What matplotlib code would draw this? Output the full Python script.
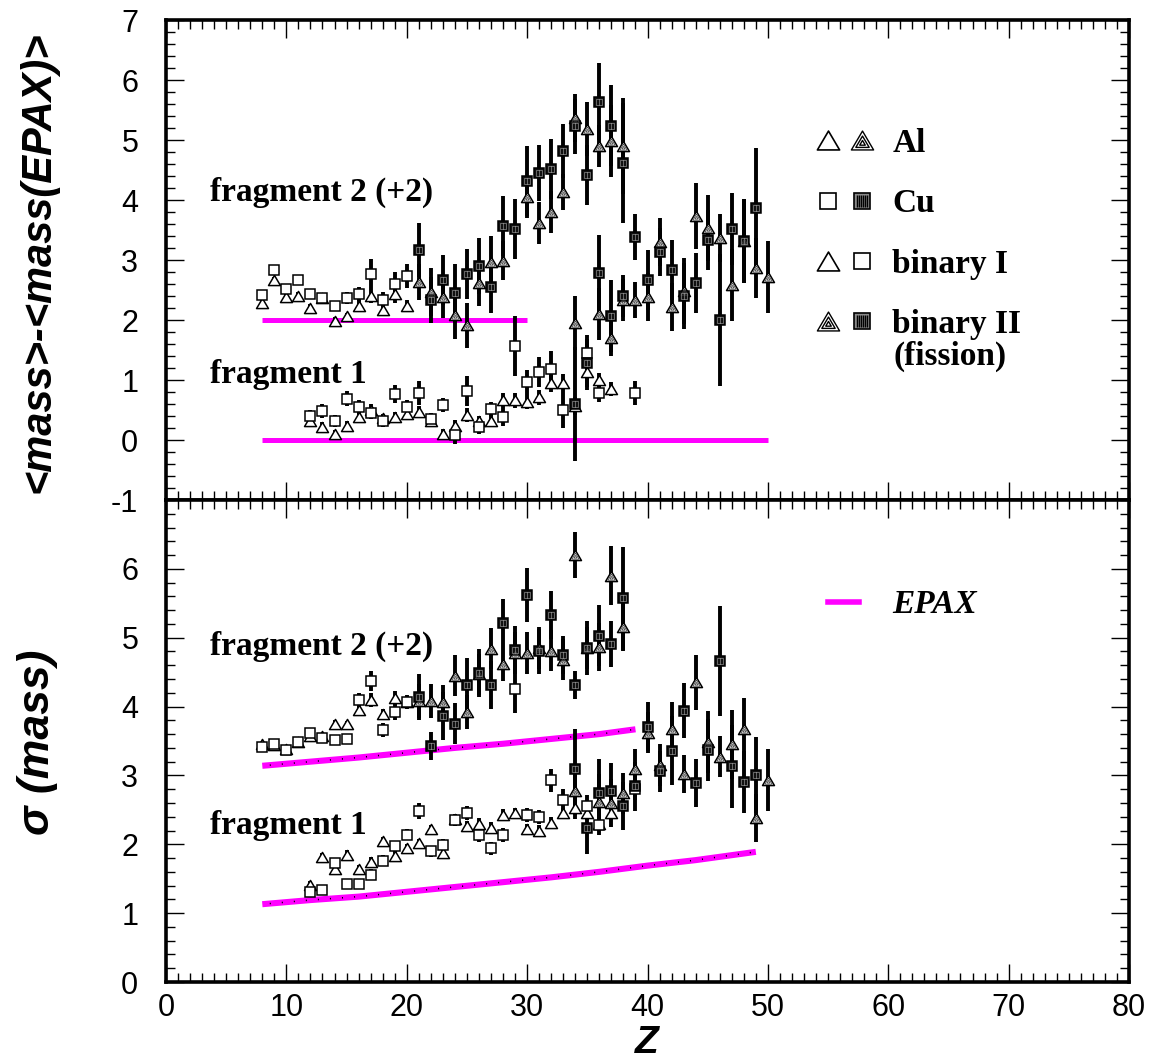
import numpy as np
import matplotlib
matplotlib.use('Agg')
import matplotlib.pyplot as plt
from matplotlib.path import Path
from matplotlib.lines import Line2D
from matplotlib.legend_handler import HandlerTuple
from matplotlib.ticker import MultipleLocator

# ---------------- data: top panel  <mass> - <mass(EPAX)> ----------------
# fragment 2 (+2 offset)
top_f2_binI_Al_z = [8, 9, 10, 11, 12, 13, 14, 15, 16, 17, 18, 19, 20]
top_f2_binI_Al_v = [2.28, 2.66, 2.38, 2.40, 2.20, 2.36, 1.99, 2.06, 2.24, 2.40, 2.17, 2.43, 2.23]
top_f2_binI_Al_e = [0.06, 0.06, 0.06, 0.06, 0.06, 0.06, 0.06, 0.06, 0.10, 0.12, 0.10, 0.15, 0.10]

top_f2_binI_Cu_z = [8, 9, 10, 11, 12, 13, 14, 15, 16, 17, 18, 19, 20]
top_f2_binI_Cu_v = [2.42, 2.83, 2.52, 2.67, 2.43, 2.37, 2.23, 2.36, 2.43, 2.77, 2.34, 2.60, 2.73]
top_f2_binI_Cu_e = [0.06, 0.06, 0.06, 0.06, 0.06, 0.06, 0.06, 0.10, 0.12, 0.25, 0.12, 0.20, 0.20]

top_f2_binII_Al_z = [21, 22, 23, 24, 25, 26, 27, 28, 30, 31, 32, 33, 34, 35, 36, 37, 38]
top_f2_binII_Al_v = [2.63, 2.47, 2.38, 2.09, 1.91, 2.62, 2.97, 2.99, 4.05, 3.62, 3.80, 4.13, 5.36, 5.19, 4.90, 4.99, 4.90]
top_f2_binII_Al_e = [0.30, 0.40, 0.35, 0.40, 0.37, 0.38, 0.43, 0.32, 0.35, 0.35, 0.35, 0.30, 0.40, 0.45, 0.35, 0.60, 0.80]

top_f2_binII_Cu_z = [21, 22, 23, 24, 25, 26, 27, 28, 29, 30, 31, 32, 33, 34, 35, 36, 37, 38]
top_f2_binII_Cu_v = [3.16, 2.33, 2.67, 2.45, 2.77, 2.90, 2.55, 3.56, 3.51, 4.32, 4.45, 4.51, 4.81, 5.23, 4.42, 5.64, 5.24, 4.62]
top_f2_binII_Cu_e = [0.45, 0.38, 0.42, 0.49, 0.42, 0.47, 0.43, 0.50, 0.50, 0.58, 0.46, 0.50, 0.45, 0.46, 0.50, 0.64, 0.67, 1.00]

# fragment 1
top_f1_binI_Al_z = [12, 13, 14, 15, 16, 17, 18, 19, 20, 21, 22, 23, 24, 25, 26, 27, 28, 29, 30, 31, 32, 33, 34, 35, 36, 37]
top_f1_binI_Al_v = [0.31, 0.22, 0.10, 0.24, 0.39, 0.50, 0.36, 0.39, 0.43, 0.47, 0.31, 0.10, 0.23, 0.42, 0.32, 0.32,
                    0.66, 0.66, 0.64, 0.71, 0.95, 0.95, 0.56, 1.14, 1.00, 0.85]
top_f1_binI_Al_e = [0.08, 0.08, 0.06, 0.08, 0.08, 0.10, 0.08, 0.08, 0.08, 0.10, 0.08, 0.08, 0.10, 0.12, 0.08, 0.10,
                    0.12, 0.12, 0.12, 0.12, 0.15, 0.15, 0.15, 0.30, 0.12, 0.12]

top_f1_binI_Cu_z = [12, 13, 14, 15, 16, 17, 18, 19, 20, 21, 22, 23, 24, 25, 26, 27, 28, 29, 30, 31, 32, 33, 35, 36, 39]
top_f1_binI_Cu_v = [0.40, 0.48, 0.31, 0.69, 0.55, 0.45, 0.31, 0.76, 0.55, 0.78, 0.35, 0.58, 0.09, 0.81, 0.22, 0.52,
                    0.39, 1.56, 0.96, 1.14, 1.19, 0.50, 1.45, 0.78, 0.79]
top_f1_binI_Cu_e = [0.10, 0.12, 0.10, 0.12, 0.12, 0.10, 0.10, 0.15, 0.12, 0.20, 0.10, 0.12, 0.15, 0.25, 0.12, 0.12,
                    0.15, 0.50, 0.20, 0.25, 0.30, 0.30, 0.30, 0.15, 0.20]

top_f1_binII_Al_z = [34, 36, 37, 38, 39, 40, 41, 42, 43, 44, 45, 46, 47, 48, 49, 50]
top_f1_binII_Al_v = [1.95, 2.10, 1.70, 2.33, 2.34, 2.39, 3.30, 2.21, 2.49, 3.74, 3.54, 3.37, 2.59, 3.31, 2.87, 2.71]
top_f1_binII_Al_e = [0.45, 0.43, 0.30, 0.35, 0.30, 0.40, 0.40, 0.40, 0.55, 0.55, 0.55, 0.40, 0.60, 0.70, 0.50, 0.60]

top_f1_binII_Cu_z = [34, 35, 36, 37, 38, 39, 40, 41, 42, 43, 44, 45, 46, 47, 48, 49]
top_f1_binII_Cu_v = [0.60, 1.28, 2.78, 2.06, 2.40, 3.38, 2.67, 3.13, 2.83, 2.40, 2.62, 3.34, 2.00, 3.52, 3.32, 3.87]
top_f1_binII_Cu_e = [0.95, 0.40, 0.64, 0.60, 0.35, 0.38, 0.50, 0.40, 0.50, 0.55, 0.50, 0.50, 1.10, 0.60, 0.70, 1.00]

# EPAX reference (top panel)
epax_top_f2_z = [8, 30]
epax_top_f2_v = [2.0, 2.0]
epax_top_f1_z = [8, 50]
epax_top_f1_v = [0.0, 0.0]

# ---------------- data: bottom panel  sigma(mass) ----------------
bot_f2_binI_Al_z = [8, 9, 10, 11, 12, 13, 14, 15, 16, 17, 18, 19, 20]
bot_f2_binI_Al_v = [3.45, 3.44, 3.38, 3.48, 3.57, 3.57, 3.75, 3.74, 3.95, 4.09, 3.89, 4.13, 4.06]
bot_f2_binI_Al_e = [0.04, 0.04, 0.04, 0.04, 0.05, 0.05, 0.05, 0.05, 0.06, 0.10, 0.08, 0.10, 0.08]

bot_f2_binI_Cu_z = [8, 9, 10, 11, 12, 13, 14, 15, 16, 17, 18, 19, 20, 29]
bot_f2_binI_Cu_v = [3.42, 3.45, 3.37, 3.48, 3.61, 3.55, 3.51, 3.53, 4.09, 4.37, 3.66, 3.92, 4.07, 4.26]
bot_f2_binI_Cu_e = [0.04, 0.04, 0.04, 0.04, 0.05, 0.05, 0.05, 0.06, 0.10, 0.15, 0.10, 0.12, 0.10, 0.35]

bot_f2_binII_Al_z = [21, 22, 23, 24, 25, 26, 27, 28, 29, 30, 31, 32, 33, 34, 35, 36, 37, 38]
bot_f2_binII_Al_v = [4.08, 4.08, 4.07, 4.45, 3.92, 4.47, 4.84, 4.62, 4.78, 4.78, 4.85, 4.81, 4.68, 6.20, 4.85, 4.87, 5.90, 5.15]
bot_f2_binII_Al_e = [0.25, 0.25, 0.25, 0.30, 0.25, 0.30, 0.30, 0.25, 0.30, 0.30, 0.30, 0.30, 0.30, 0.33, 0.30, 0.35, 0.43, 0.35]

bot_f2_binII_Cu_z = [21, 22, 23, 24, 25, 26, 27, 28, 29, 30, 31, 32, 33, 34, 35, 36, 37, 38]
bot_f2_binII_Cu_v = [4.14, 3.43, 3.86, 3.75, 4.31, 4.49, 4.31, 5.21, 4.82, 5.62, 4.80, 5.33, 4.75, 4.31, 4.85, 5.03, 4.91, 5.57]
bot_f2_binII_Cu_e = [0.33, 0.20, 0.35, 0.30, 0.40, 0.35, 0.35, 0.35, 0.35, 0.39, 0.33, 0.35, 0.28, 0.20, 0.39, 0.44, 0.34, 0.75]

bot_f1_binI_Al_z = [12, 13, 14, 15, 16, 17, 18, 19, 20, 21, 22, 23, 24, 25, 26, 27, 28, 29, 30, 31, 32, 33, 34, 35, 36, 37]
bot_f1_binI_Al_v = [1.41, 1.81, 1.64, 1.85, 1.64, 1.75, 2.05, 1.83, 1.95, 2.02, 2.22, 1.87, 2.36, 2.26, 2.30, 2.24,
                    2.43, 2.45, 2.22, 2.20, 2.31, 2.45, 2.52, 2.45, 2.30, 2.45]
bot_f1_binI_Al_e = [0.06, 0.06, 0.06, 0.06, 0.06, 0.06, 0.06, 0.06, 0.06, 0.06, 0.06, 0.06, 0.08, 0.08, 0.08, 0.08,
                    0.08, 0.08, 0.08, 0.08, 0.08, 0.08, 0.10, 0.10, 0.10, 0.10]

bot_f1_binI_Cu_z = [12, 13, 14, 15, 16, 17, 18, 19, 20, 21, 22, 23, 24, 25, 26, 27, 28, 30, 31, 32, 33, 35, 36, 39]
bot_f1_binI_Cu_v = [1.31, 1.33, 1.73, 1.43, 1.43, 1.56, 1.76, 1.97, 2.14, 2.48, 1.90, 1.99, 2.35, 2.45, 2.14, 1.94,
                    2.14, 2.43, 2.40, 2.93, 2.65, 2.56, 2.28, 2.80]
bot_f1_binI_Cu_e = [0.06, 0.06, 0.06, 0.06, 0.06, 0.08, 0.08, 0.08, 0.08, 0.12, 0.08, 0.08, 0.08, 0.10, 0.10, 0.10,
                    0.10, 0.10, 0.10, 0.17, 0.15, 0.15, 0.15, 0.15]

bot_f1_binII_Al_z = [34, 36, 37, 38, 39, 40, 41, 42, 43, 44, 45, 46, 47, 48, 49, 50]
bot_f1_binII_Al_v = [2.77, 2.62, 2.60, 2.74, 3.09, 3.62, 3.15, 3.67, 3.02, 4.35, 3.48, 3.27, 3.45, 3.68, 2.38, 2.94]
bot_f1_binII_Al_e = [0.40, 0.40, 0.35, 0.30, 0.30, 0.30, 0.30, 0.40, 0.27, 0.40, 0.45, 0.30, 0.50, 0.45, 0.35, 0.45]

bot_f1_binII_Cu_z = [34, 35, 36, 37, 38, 39, 40, 41, 42, 43, 44, 45, 46, 47, 48, 49]
bot_f1_binII_Cu_v = [3.10, 2.24, 2.74, 2.78, 2.56, 2.84, 3.71, 3.06, 3.36, 3.94, 2.89, 3.37, 4.66, 3.13, 2.90, 3.01]
bot_f1_binII_Cu_e = [0.57, 0.38, 0.50, 0.40, 0.35, 0.35, 0.35, 0.30, 0.50, 0.40, 0.35, 0.45, 0.80, 0.60, 0.45, 0.55]

# EPAX sigma (bottom panel)
epax_sig_f2_z = [8, 12, 16, 20, 24, 28, 32, 36, 39]
epax_sig_f2_v = [3.14, 3.20, 3.26, 3.33, 3.40, 3.46, 3.53, 3.60, 3.67]
epax_sig_f1_z = [8, 12, 16, 20, 24, 28, 32, 36, 40, 44, 49]
epax_sig_f1_v = [1.13, 1.19, 1.24, 1.31, 1.38, 1.45, 1.52, 1.60, 1.69, 1.77, 1.89]

top_yticks = [-1, 0, 1, 2, 3, 4, 5, 6, 7]
bot_yticks = [0, 1, 2, 3, 4, 5, 6]
x_ticks = [0, 10, 20, 30, 40, 50, 60, 70, 80]

# ---------------- styling ----------------
plt.rcParams['font.family'] = ['Liberation Sans', 'DejaVu Sans']
plt.rcParams['axes.unicode_minus'] = False
SERIF = ['Liberation Serif', 'DejaVu Serif']
SANS = ['Liberation Sans', 'DejaVu Sans']
MAGENTA = '#ff00ff'

# marker paths
_tri = [(-1.0, -0.85), (1.0, -0.85), (0.0, 0.85)]
_cy = -0.278


def _tri_path(s):
    v = [(x * s, _cy + (y - _cy) * s) for x, y in _tri]
    return Path(v + [v[0]], [Path.MOVETO, Path.LINETO, Path.LINETO, Path.CLOSEPOLY])


TRI = _tri_path(1.0)
HATTRI_IN = Path.make_compound_path(Path([(1, 1)], [Path.MOVETO]), _tri_path(0.6), _tri_path(0.25))
HATTRI = Path.make_compound_path(_tri_path(1.0), _tri_path(0.6), _tri_path(0.25))
_sq_in = 0.55
SQOVER = Path([(1, 1), (-_sq_in, -_sq_in), (_sq_in, -_sq_in), (_sq_in, _sq_in), (-_sq_in, _sq_in), (-_sq_in, -_sq_in),
               (0, -_sq_in), (0, _sq_in)],
              [Path.MOVETO, Path.MOVETO, Path.LINETO, Path.LINETO, Path.LINETO, Path.CLOSEPOLY,
               Path.MOVETO, Path.LINETO])
_stx = [-0.6, -0.36, -0.12, 0.12, 0.36, 0.6]
_sv, _sc = [(1, 1)], [Path.MOVETO]
for _x in _stx:
    _sv += [(_x, -0.75), (_x, 0.75)]
    _sc += [Path.MOVETO, Path.LINETO]
STRIPES = Path(_sv, _sc)

MS_T = 8.6
MS_S = 7.8
STY = {
    'open_tri': dict(marker=TRI, ms=MS_T, mfc='white', mec='k', mew=1.1),
    'hat_tri': dict(marker=TRI, ms=MS_T, mfc='white', mec='k', mew=1.1),
    'open_sq': dict(marker='s', ms=MS_S, mfc='white', mec='k', mew=1.1),
    'dark_sq': dict(marker='s', ms=MS_S, mfc='#111111', mec='k', mew=1.1),
}
EW = 2.8


def draw(ax, z, v, e, kind):
    ax.errorbar(z, v, yerr=e, fmt='none', ecolor='k', elinewidth=EW, capsize=0, zorder=2)
    ax.plot(z, v, ls='none', zorder=3, **STY[kind])
    if kind == 'dark_sq':
        ax.plot(z, v, ls='none', zorder=4, marker=SQOVER, ms=MS_S, mfc='none', mec='#8a8a8a', mew=0.5)
    if kind == 'hat_tri':
        ax.plot(z, v, ls='none', zorder=4, marker=HATTRI_IN, ms=MS_T, mfc='none', mec='#404040', mew=0.55)


fig = plt.figure(figsize=(11.55, 10.63), dpi=100)
L, W = 166 / 1155, (1129 - 166) / 1155
ax1 = fig.add_axes([L, 1 - 500 / 1063, W, 480 / 1063])
ax2 = fig.add_axes([L, 1 - 982 / 1063, W, 482 / 1063])

for ax in (ax1, ax2):
    ax.set_xlim(0, 80)
    ax.set_xticks(x_ticks)
    ax.xaxis.set_minor_locator(MultipleLocator(1))
    ax.yaxis.set_minor_locator(MultipleLocator(0.2))
    ax.tick_params(which='both', direction='in', top=True, right=True, width=1.0, color='k')
    ax.tick_params(which='major', length=13)
    ax.tick_params(which='minor', length=6.5)
    ax.tick_params(axis='x', which='major', labelsize=22, pad=8)
    ax.tick_params(axis='y', which='major', labelsize=22, pad=20)
    for sp in ax.spines.values():
        sp.set_linewidth(2.6)

ax1.set_ylim(-1, 7)
ax1.set_yticks(top_yticks)
ax1.tick_params(axis='x', labelbottom=False)
ax2.set_ylim(0, 7)
ax2.set_yticks(bot_yticks)

# EPAX lines
ax1.plot(epax_top_f2_z, epax_top_f2_v, color=MAGENTA, lw=3.6, solid_capstyle='butt', zorder=1)
ax1.plot(epax_top_f1_z, epax_top_f1_v, color=MAGENTA, lw=3.6, solid_capstyle='butt', zorder=1)
for z, v in ((epax_sig_f2_z, epax_sig_f2_v), (epax_sig_f1_z, epax_sig_f1_v)):
    ax2.plot(z, v, color=MAGENTA, lw=4.4, solid_capstyle='butt', zorder=1)
    ax2.plot(z, v, color='k', lw=1.1, ls=(3, (0.7, 7.2)), zorder=1.5)

# data
draw(ax1, top_f2_binI_Al_z, top_f2_binI_Al_v, top_f2_binI_Al_e, 'open_tri')
draw(ax1, top_f2_binI_Cu_z, top_f2_binI_Cu_v, top_f2_binI_Cu_e, 'open_sq')
draw(ax1, top_f2_binII_Al_z, top_f2_binII_Al_v, top_f2_binII_Al_e, 'hat_tri')
draw(ax1, top_f2_binII_Cu_z, top_f2_binII_Cu_v, top_f2_binII_Cu_e, 'dark_sq')
draw(ax1, top_f1_binI_Al_z, top_f1_binI_Al_v, top_f1_binI_Al_e, 'open_tri')
draw(ax1, top_f1_binI_Cu_z, top_f1_binI_Cu_v, top_f1_binI_Cu_e, 'open_sq')
draw(ax1, top_f1_binII_Al_z, top_f1_binII_Al_v, top_f1_binII_Al_e, 'hat_tri')
draw(ax1, top_f1_binII_Cu_z, top_f1_binII_Cu_v, top_f1_binII_Cu_e, 'dark_sq')

draw(ax2, bot_f2_binI_Al_z, bot_f2_binI_Al_v, bot_f2_binI_Al_e, 'open_tri')
draw(ax2, bot_f2_binI_Cu_z, bot_f2_binI_Cu_v, bot_f2_binI_Cu_e, 'open_sq')
draw(ax2, bot_f2_binII_Al_z, bot_f2_binII_Al_v, bot_f2_binII_Al_e, 'hat_tri')
draw(ax2, bot_f2_binII_Cu_z, bot_f2_binII_Cu_v, bot_f2_binII_Cu_e, 'dark_sq')
draw(ax2, bot_f1_binI_Al_z, bot_f1_binI_Al_v, bot_f1_binI_Al_e, 'open_tri')
draw(ax2, bot_f1_binI_Cu_z, bot_f1_binI_Cu_v, bot_f1_binI_Cu_e, 'open_sq')
draw(ax2, bot_f1_binII_Al_z, bot_f1_binII_Al_v, bot_f1_binII_Al_e, 'hat_tri')
draw(ax2, bot_f1_binII_Cu_z, bot_f1_binII_Cu_v, bot_f1_binII_Cu_e, 'dark_sq')

# annotations
FR = dict(fontsize=24, fontweight='bold', family=SERIF, ha='left', va='center')
ax1.text(3.65, 4.13, 'fragment 2 (+2)', **FR)
ax1.text(3.65, 1.10, 'fragment 1', **FR)
ax2.text(3.65, 4.88, 'fragment 2 (+2)', **FR)
ax2.text(3.65, 2.28, 'fragment 1', **FR)

# legend (top)
lm = dict(ls='none')
h_ot = Line2D([], [], marker=TRI, ms=16, mfc='white', mec='k', mew=1.2, **lm)
h_ht = Line2D([], [], marker=HATTRI, ms=16, mfc='white', mec='k', mew=1.0, **lm)
h_os = Line2D([], [], marker='s', ms=12, mfc='white', mec='k', mew=1.2, **lm)
h_ds = (Line2D([], [], marker='s', ms=12, mfc='#8a8a8a', mec='k', mew=1.2, **lm),
        Line2D([], [], marker=STRIPES, ms=12, mfc='none', mec='k', mew=1.0, **lm))
handles = [(h_ot, h_ht), (h_os, h_ds), (h_ot, h_os), (h_ht, h_ds)]
labels = ['Al', 'Cu', 'binary I', 'binary II']
hmap = {h: HandlerTuple(ndivide=None, pad=0.27) for h in handles}
leg = ax1.legend(handles, labels, handler_map=hmap, loc='upper left', bbox_to_anchor=(0.6745, 0.775),
                 frameon=False, borderpad=0, borderaxespad=0, handlelength=1.75, handletextpad=0.55,
                 labelspacing=0.88, prop=dict(family=SERIF, weight='bold', size=24))
ax1.text(0.755, 0.300, '(fission)', transform=ax1.transAxes, ha='left', va='center',
         fontsize=24, fontweight='bold', family=SERIF)

# legend (bottom)
h_ep = Line2D([], [], color=MAGENTA, lw=4)
ax2.legend([h_ep], ['EPAX'], loc='upper left', bbox_to_anchor=(0.687, 0.815), frameon=False,
           borderpad=0, borderaxespad=0, handlelength=0.95, handletextpad=0.98,
           prop=dict(family=SERIF, weight='bold', style='italic', size=24))

# axis titles
fig.text(38 / 1155, 1 - 262 / 1063, '<mass>-<mass(EPAX)>', rotation=90, ha='center', va='center',
         fontsize=30, fontweight='bold', style='italic', family=SANS)
fig.text(38 / 1155, 1 - 742 / 1063, 'σ (mass)', rotation=90, ha='center', va='center',
         fontsize=32, fontweight='bold', style='italic', family=SANS)
fig.text(647 / 1155, 1 - 1043 / 1063, 'Z', ha='center', va='center',
         fontsize=28, fontweight='bold', style='italic', family=SANS)

fig.savefig('out.png', dpi=100)
